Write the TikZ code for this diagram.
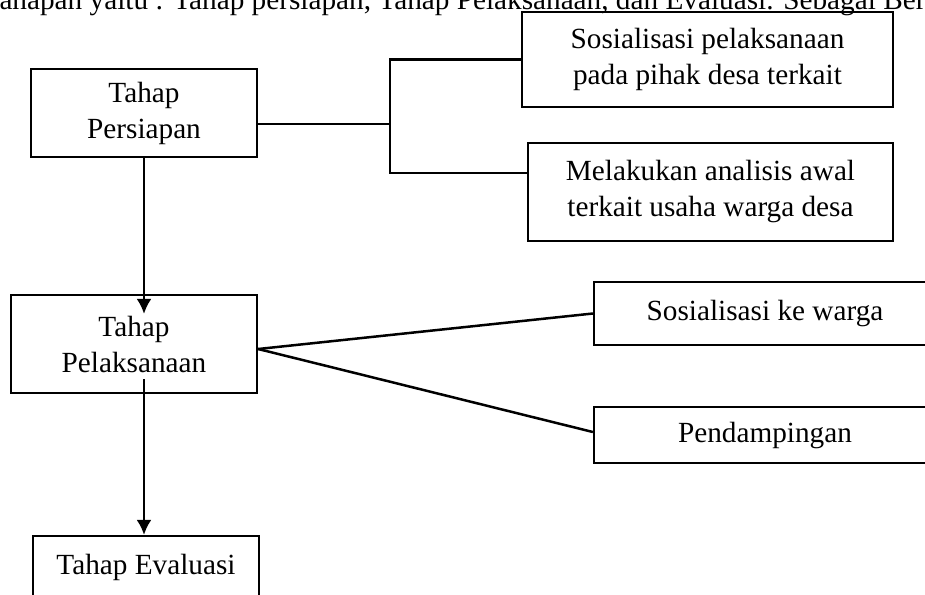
\documentclass[tikz,border=0pt]{standalone}
\usepackage{fontspec}
\setmainfont{Liberation Serif}
\usetikzlibrary{shapes,arrows.meta,calc}
\tikzstyle{block} = [rectangle, draw, line width=0.9pt, align=center, inner sep=0pt]
\tikzstyle{line} = [draw, -{Latex[length=6pt,width=6pt]}, line width=1pt]
\tikzstyle{branch} = [draw, line width=1pt]

\begin{document}
\begin{tikzpicture}[x=0.4pt, y=0.4pt, font=\fontsize{11.7}{14.4}\selectfont]
\useasboundingbox (0,0) rectangle (925,-594);

\node [anchor=base west, inner sep=0pt] (intro) at (-1,-9) {ahapan yaitu : Tahap persiapan, Tahap Pelaksanaan, dan Evaluasi. Sebagai Ber};

\node [block, minimum width=90.4pt, minimum height=35.2pt] (persiapan) at (144,-113) {Tahap\\Persiapan};
\node [block, minimum width=148.4pt, minimum height=38pt] (sospihak) at (707.5,-59.5) {Sosialisasi pelaksanaan\\pada pihak desa terkait};
\node [block, minimum width=146pt, minimum height=39.2pt] (analisis) at (710.5,-192) {Melakukan analisis awal\\terkait usaha warga desa};
\node [block, minimum width=98.4pt, minimum height=39.2pt] (pelaksanaan) at (134,-344) {Tahap\\Pelaksanaan};
\node [block, minimum width=136.8pt, minimum height=25.2pt] (soswarga) at (765,-313.5) {Sosialisasi ke warga};
\node [block, minimum width=136.8pt, minimum height=22.4pt] (pendampingan) at (765,-435) {Pendampingan};
\node [block, minimum width=90.4pt, minimum height=24.8pt] (evaluasi) at (146,-567) {Tahap Evaluasi};

\coordinate (fork) at (390,-124);
\path [branch] ($(persiapan.east)+(0,-11)$) -- (fork);
\path [branch] (fork) |- (sospihak.west);
\path [branch] (fork) |- ($(analisis.west)+(0,19)$);
\path [branch] ($(pelaksanaan.east)+(0,-5)$) -- (soswarga.west);
\path [branch] ($(pelaksanaan.east)+(0,-5)$) -- ($(pendampingan.west)+(0,3)$);

\path [line] (persiapan.south) -- ($(persiapan.south |- pelaksanaan.north)+(0,-20)$);
\path [line] ($(persiapan.south |- pelaksanaan.south)+(0,15)$) -- (persiapan.south |- evaluasi.north);

\end{tikzpicture}
\end{document}
